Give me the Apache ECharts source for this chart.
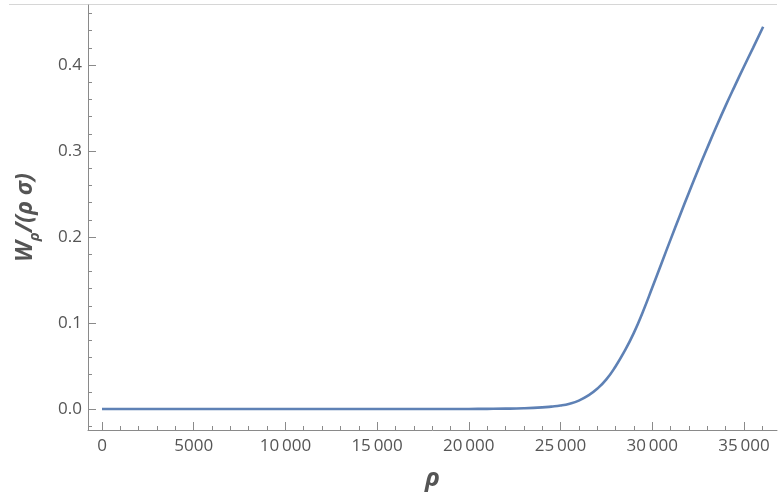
<!DOCTYPE html>
<html>
<head>
<meta charset="utf-8">
<title>W_rho / (rho sigma)</title>
<script src="https://cdn.jsdelivr.net/npm/echarts@6/dist/echarts.min.js"></script>
<style>
  html, body { margin: 0; padding: 0; background: #fff; }
  #chart { width: 779px; height: 500px; }
</style>
</head>
<body>
<div id="chart"></div>
<script>
// rho samples and the normalised work W_rho / (rho sigma)
const rhoValues = [0, 2000, 4000, 6000, 8000, 10000, 12000, 14000, 16000, 18000, 20000,
  21000, 22000, 23000, 24000, 24500, 25000, 25500, 26000, 26500, 27000, 27500,
  28000, 28500, 29000, 29500, 30000, 30500, 31000, 31500, 32000, 32500, 33000,
  33500, 34000, 34500, 35000, 35500, 36050];
const wValues = [0, 0, 0, 0, 0, 0, 0, 0, 0, 0, 0.0001,
  0.0002, 0.0004, 0.0009, 0.0019, 0.0028, 0.0040, 0.0062, 0.0098, 0.0155, 0.0235, 0.0345,
  0.0495, 0.0675, 0.0885, 0.1135, 0.1410, 0.1690, 0.1970, 0.2245, 0.2515, 0.2780, 0.3035,
  0.3285, 0.3525, 0.3755, 0.3980, 0.4200, 0.4445];

// tick positions
const xMajorTicks = [0, 5000, 10000, 15000, 20000, 25000, 30000, 35000];
const xMinorTicks = [];
for (let v = 1000; v <= 36000; v += 1000) if (v % 5000 !== 0) xMinorTicks.push(v);
const yMajorTicks = [0, 0.1, 0.2, 0.3, 0.4];
const yMinorTicks = [-0.02, 0.02, 0.04, 0.06, 0.08, 0.12, 0.14, 0.16, 0.18, 0.22, 0.24,
  0.26, 0.28, 0.32, 0.34, 0.36, 0.38, 0.42, 0.44, 0.46];

const xRange = [-763, 36805];
const yRange = [-0.0244, 0.4698];

const axisGray = '#8a8a8a';
const labelGray = '#555555';
const font = '"Open Sans", "Noto Sans", sans-serif';

function groupDigits(v) {
  const s = String(Math.round(v));
  if (s.length < 5) return s;
  return s.replace(/\B(?=(\d{3})+(?!\d))/g, '\u2009');
}

const chart = echarts.init(document.getElementById('chart'), null, { renderer: 'canvas' });

const baseAxis = {
  type: 'value',
  splitLine: { show: false },
  axisLine: { show: true, onZero: false, lineStyle: { color: axisGray, width: 1 } }
};

chart.setOption({
  animation: false,
  backgroundColor: '#ffffff',
  grid: { left: 88, right: 2, top: 5, bottom: 70, containLabel: false },
  graphic: [{
    type: 'line',
    shape: { x1: 9, y1: 4.5, x2: 777, y2: 4.5 },
    style: { stroke: '#d6d6d6', lineWidth: 1 },
    silent: true
  }],
  xAxis: [
    Object.assign({}, baseAxis, {
      min: xRange[0], max: xRange[1], position: 'bottom',
      name: 'ρ', nameLocation: 'middle', nameGap: 36,
      nameTextStyle: { fontFamily: font, fontSize: 25, fontWeight: 'bold', fontStyle: 'italic', color: labelGray },
      axisTick: { show: true, inside: true, length: 8, customValues: xMajorTicks, lineStyle: { color: axisGray } },
      axisLabel: { show: true, customValues: xMajorTicks, margin: 8, fontFamily: font, fontSize: 17, color: labelGray,
        formatter: groupDigits }
    }),
    Object.assign({}, baseAxis, {
      min: xRange[0], max: xRange[1], position: 'bottom',
      axisLine: { show: false, onZero: false },
      axisTick: { show: true, inside: true, length: 4, customValues: xMinorTicks, lineStyle: { color: axisGray } },
      axisLabel: { show: false }
    })
  ],
  yAxis: [
    Object.assign({}, baseAxis, {
      min: yRange[0], max: yRange[1], position: 'left',
      name: '{w|W}{s|ρ}{w|/(ρ σ)}', nameLocation: 'middle', nameGap: 46, nameRotate: 90,
      nameTextStyle: {
        color: labelGray,
        rich: {
          w: { fontFamily: font, fontSize: 23, fontWeight: 'bold', fontStyle: 'italic', color: labelGray, lineHeight: 34, verticalAlign: 'middle' },
          s: { fontFamily: font, fontSize: 15, fontWeight: 'bold', fontStyle: 'italic', color: labelGray, lineHeight: 20, verticalAlign: 'bottom' }
        }
      },
      axisTick: { show: true, inside: true, length: 8, customValues: yMajorTicks, lineStyle: { color: axisGray } },
      axisLabel: { show: true, customValues: yMajorTicks, margin: 6, fontFamily: font, fontSize: 17, color: labelGray,
        formatter: v => v.toFixed(1) }
    }),
    Object.assign({}, baseAxis, {
      min: yRange[0], max: yRange[1], position: 'left',
      axisLine: { show: false, onZero: false },
      axisTick: { show: true, inside: true, length: 4, customValues: yMinorTicks, lineStyle: { color: axisGray } },
      axisLabel: { show: false }
    })
  ],
  series: [{
    type: 'line',
    xAxisIndex: 0,
    yAxisIndex: 0,
    data: rhoValues.map((r, i) => [r, wValues[i]]),
    smooth: 0.5,
    showSymbol: false,
    lineStyle: { color: '#5e81b5', width: 2.6 },
    clip: false
  }]
});
</script>
</body>
</html>
